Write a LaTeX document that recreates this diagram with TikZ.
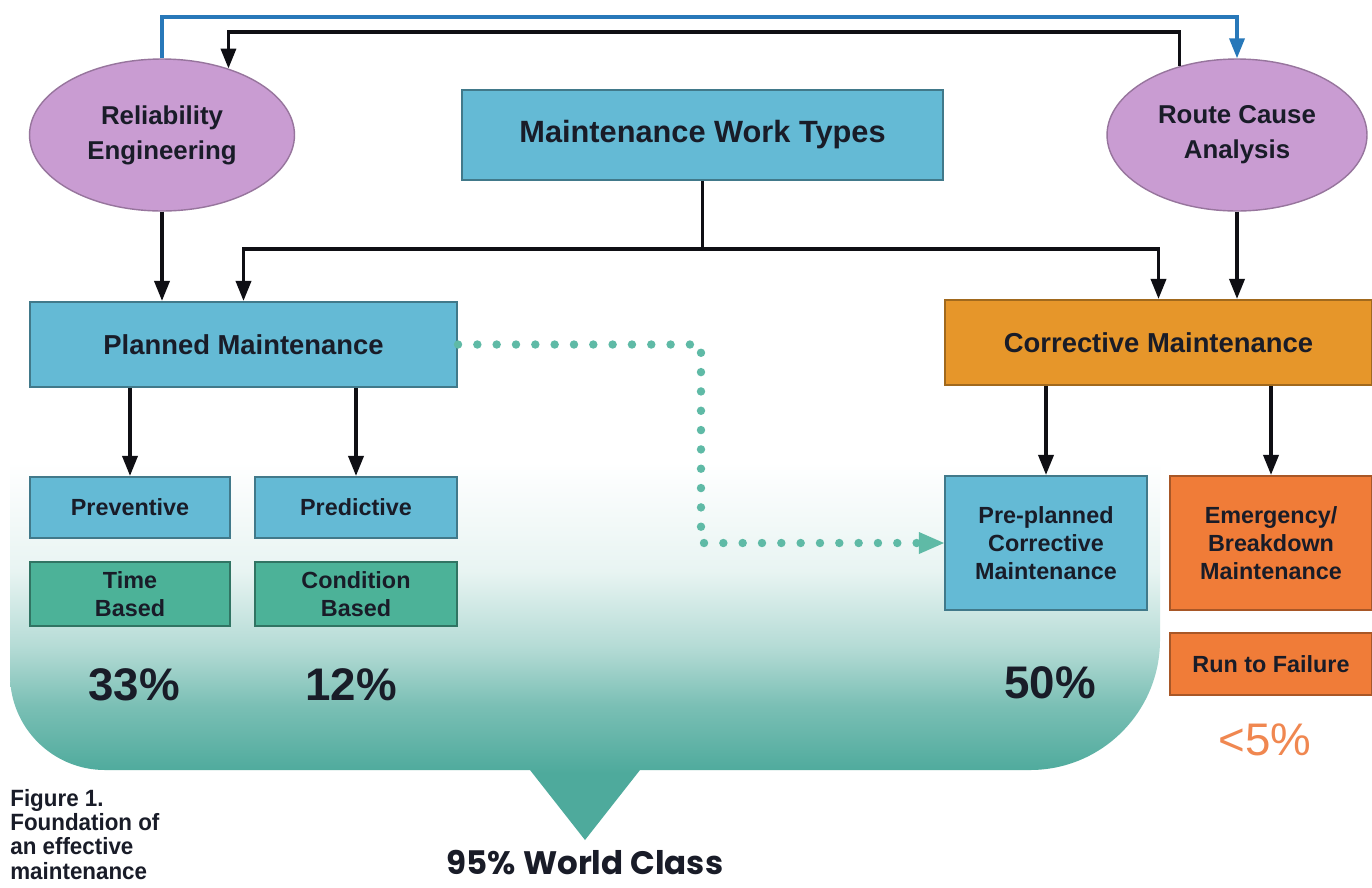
\documentclass[tikz,border=0pt]{standalone}
\usepackage{fontspec}
\setmainfont{Liberation Sans}
\newfontfamily\popfont{Poppins}
\newfontfamily\capfont{Liberation Sans}[FakeStretch=0.95]
\usetikzlibrary{arrows.meta,
                positioning,
                shapes, calc}

\definecolor{boxblue}{RGB}{100,186,213}
\definecolor{basedteal}{RGB}{76,178,152}
\definecolor{corrgold}{RGB}{230,150,42}
\definecolor{emgorange}{RGB}{240,124,56}
\definecolor{ovalpurple}{RGB}{201,156,210}
\definecolor{linkblue}{RGB}{40,120,185}
\definecolor{dotteal}{RGB}{95,186,166}
\definecolor{callteal}{RGB}{78,170,156}
\definecolor{pctorange}{RGB}{240,135,80}
\definecolor{inkdark}{RGB}{25,28,40}
\definecolor{inkblack}{RGB}{15,15,20}

\pgfdeclareverticalshading{calloutshade}{100bp}{color(0bp)=(callteal); color(33bp)=(callteal); color(41bp)=(callteal!75); color(48bp)=(callteal!42); color(57bp)=(callteal!13); color(70bp)=(white); color(100bp)=(white)}

\begin{document}
\begin{tikzpicture}[
        x=0.02cm, y=-0.02cm,
        box/.style={
            rectangle,
            draw=boxblue!65!black,
            line width=1.2pt,
            fill=boxblue,
            text=inkdark,
            align=center,
            inner sep=0pt,
            font=\bfseries\fontsize{13.3}{15.9}\selectfont
        },
        big box/.style={
            box,
            minimum width=8.54cm,
            minimum height=1.7cm,
            font=\bfseries\fontsize{15.6}{19}\selectfont
        },
        small box/.style={
            box,
            minimum width=4cm,
            minimum height=1.22cm
        },
        based box/.style={
            small box,
            fill=basedteal,
            draw=basedteal!65!black,
            minimum height=1.28cm
        },
        tall box/.style={
            box,
            minimum width=4.04cm,
            minimum height=2.68cm
        },
        oval/.style={
            ellipse,
            draw=ovalpurple!75!black,
            line width=0.8pt,
            fill=ovalpurple,
            minimum width=5.3cm,
            minimum height=3.04cm,
            inner sep=0pt,
            align=center,
            text=inkdark,
            font=\bfseries\fontsize{14.7}{20}\selectfont
        },
        arrow/.style={-{Triangle[length=0.4cm,width=0.3cm]},line width=2pt,draw=inkblack},
        link arrow/.style={arrow,draw=linkblue},
        dot line/.style={draw=dotteal,line width=4.8pt,line cap=round,dash pattern=on 0pt off 11pt},
        pct/.style={font=\bfseries\fontsize{26}{30}\selectfont,text=inkdark}
    ]
    \useasboundingbox (0,0) rectangle (1372,887);
    \fill[white] (0,0) rectangle (1372,887);

    % 背景提示框
    \shade[shading=calloutshade] (10,420) -- (10,675) arc[start angle=180,end angle=90,radius=95]
        -- (530,770) -- (585,840) -- (640,770) -- (1030,770)
        arc[start angle=90,end angle=0,radius=130] -- (1160,420) -- cycle;

    % 顶层
    \node[oval] (rel) at (162,135) {Reliability\\Engineering};
    \node[oval,minimum width=5.2cm] (rca) at (1237,135) {Route Cause\\Analysis};
    \node[big box,minimum width=9.62cm,minimum height=1.8cm,
          font=\bfseries\fontsize{17.5}{21}\selectfont] (mwt) at (702.5,135) {Maintenance Work Types};

    % 第二层
    \node[big box] (pm) at (243.5,344.5) {Planned Maintenance};
    \node[big box,fill=corrgold,draw=corrgold!70!black] (cm) at (1158.5,342.5) {Corrective Maintenance};

    % 第三层
    \node[small box] (prev) at (130,507.5) {Preventive};
    \node[small box,minimum width=4.04cm] (pred) at (356,507.5) {Predictive};
    \node[based box] (time) at (130,594) {Time\\Based};
    \node[based box,minimum width=4.04cm] (cond) at (356,594) {Condition\\Based};
    \node[tall box] (ppc) at (1046,543) {Pre-planned\\Corrective\\Maintenance};
    \node[tall box,fill=emgorange,draw=emgorange!70!black] (emg) at (1271,543) {Emergency/\\Breakdown\\Maintenance};
    \node[small box,minimum width=4.04cm,minimum height=1.24cm,
          fill=emgorange,draw=emgorange!70!black] (rtf) at (1271,664) {Run to Failure};

    % 百分比
    \node[pct] (p33) at (134,685) {33\%};
    \node[pct] (p12) at (351,685) {12\%};
    \node[pct] (p50) at (1050,683) {50\%};
    \node[pct,font=\fontsize{26}{30}\selectfont,text=pctorange] (p5) at (1265,740) {<5\%};

    % 底部文字
    \node[anchor=base,inner sep=0pt,font=\popfont\bfseries\fontsize{18.5}{22}\selectfont,text=inkdark] (wc) at (585,874) {95\% World Class};
    \node[anchor=north west,align=left,inner sep=0pt,text=inkdark,
          font=\capfont\bfseries\fontsize{13.4}{13.8}\selectfont] (cap) at (10,789)
          {Figure 1.\\Foundation of\\an effective\\maintenance};

    % 顶部回路
    \coordinate (topb) at (0,17);
    \coordinate (topk) at (0,32);
    \draw[link arrow] (rel.north) -- (rel.north |- topb) -| (rca.north);
    \draw[arrow] (rca.130) -- (rca.130 |- topk) -| (rel.45);

    % 分支连线
    \draw[arrow] (mwt.south) -- ++(0,68) -| (pm.north);
    \draw[arrow] (mwt.south) -- ++(0,68) -| (cm.north);
    \draw[arrow] (rel.south) -- (rel.south |- pm.north);
    \draw[arrow] (rca.south) -- (rca.south |- cm.north);
    \foreach \sub in {prev,pred}
        \draw[arrow] (\sub.north |- pm.south) -- (\sub.north);
    \foreach \sub in {ppc,emg}
        \draw[arrow] (\sub.north |- cm.south) -- (\sub.north);

    % 虚线
    \draw[dot line,-{Triangle[length=0.5cm,width=0.44cm,line width=0pt]}]
        (pm.east) -| ($(pm.east)!.5!(ppc.west)$) |- (ppc.west);

\end{tikzpicture}
\end{document}
